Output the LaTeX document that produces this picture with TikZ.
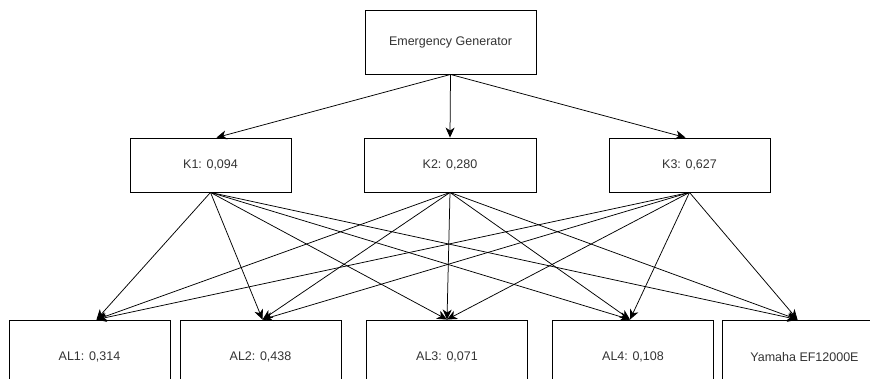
\documentclass[tikz,border=0pt]{standalone}
\usepackage{fontspec}
\setmainfont{Liberation Sans}
\usepackage{tikz}
\usetikzlibrary{arrows.meta, positioning, calc}
\definecolor{box-text}{gray}{0.2}

\tikzset{
	box/.style={draw, line width=0.9pt, rectangle, minimum width=161pt, minimum height=54pt, inner sep=0pt, text=box-text, font=\fontsize{12.5}{15}\selectfont},
	link/.style={line width=0.75pt, -{Stealth[length=10pt, width=9pt, inset=3pt]}}
}

\begin{document}
\begin{tikzpicture}[x=1pt, y=-1pt]
					\clip (0,0) rectangle (870,378);
					\fill[white] (0,0) rectangle (870,378);
					
					\node[box, minimum width=171pt, minimum height=64pt] at (450.5,42) (gen) {Emergency Generator};
					
					\node[box] at (210.5,165) (k1) {K1: 0,094};
					\node[box, minimum width=172pt] at (450,165) (k2) {K2: 0,280};
					\node[box] at (689.5,165) (k3) {K3: 0,627};
					
					\node[box, minimum height=74pt] at (89.5,357) (al1) {AL1: 0,314};
					\node[box, minimum height=74pt] at (260.5,357) (al2) {AL2: 0,438};
					\node[box, minimum height=74pt] at (447,357) (al3) {AL3: 0,071};
					\node[box, minimum height=74pt] at (633,357) (al4) {AL4: 0,108};
					\node[box, minimum width=165pt, minimum height=74pt] at (804.5,357) (yam) {Yamaha EF12000E};
					
					\draw[link] (gen.south) -- ([xshift=6pt]k1.north);
					\draw[link] (gen.south) -- (k2.north);
					\draw[link] (gen.south) -- ([xshift=-4pt]k3.north);
					
					\draw[link] (k1.south) -- ([xshift=7pt]al1.north);
					\draw[link] (k1.south) -- ([xshift=2pt]al2.north);
					\draw[link] (k1.south) -- (al3.north);
					\draw[link] (k1.south) -- ([xshift=-3pt]al4.north);
					\draw[link] (k1.south) -- ([xshift=-7pt]yam.north);
					
					\draw[link] (k2.south) -- ([xshift=7pt]al1.north);
					\draw[link] (k2.south) -- ([xshift=2pt]al2.north);
					\draw[link] (k2.south) -- (al3.north);
					\draw[link] (k2.south) -- ([xshift=-3pt]al4.north);
					\draw[link] (k2.south) -- ([xshift=-7pt]yam.north);
					
					\draw[link] (k3.south) -- ([xshift=7pt]al1.north);
					\draw[link] (k3.south) -- ([xshift=2pt]al2.north);
					\draw[link] (k3.south) -- (al3.north);
					\draw[link] (k3.south) -- ([xshift=-3pt]al4.north);
					\draw[link] (k3.south) -- ([xshift=-7pt]yam.north);
				\end{tikzpicture}
\end{document}
